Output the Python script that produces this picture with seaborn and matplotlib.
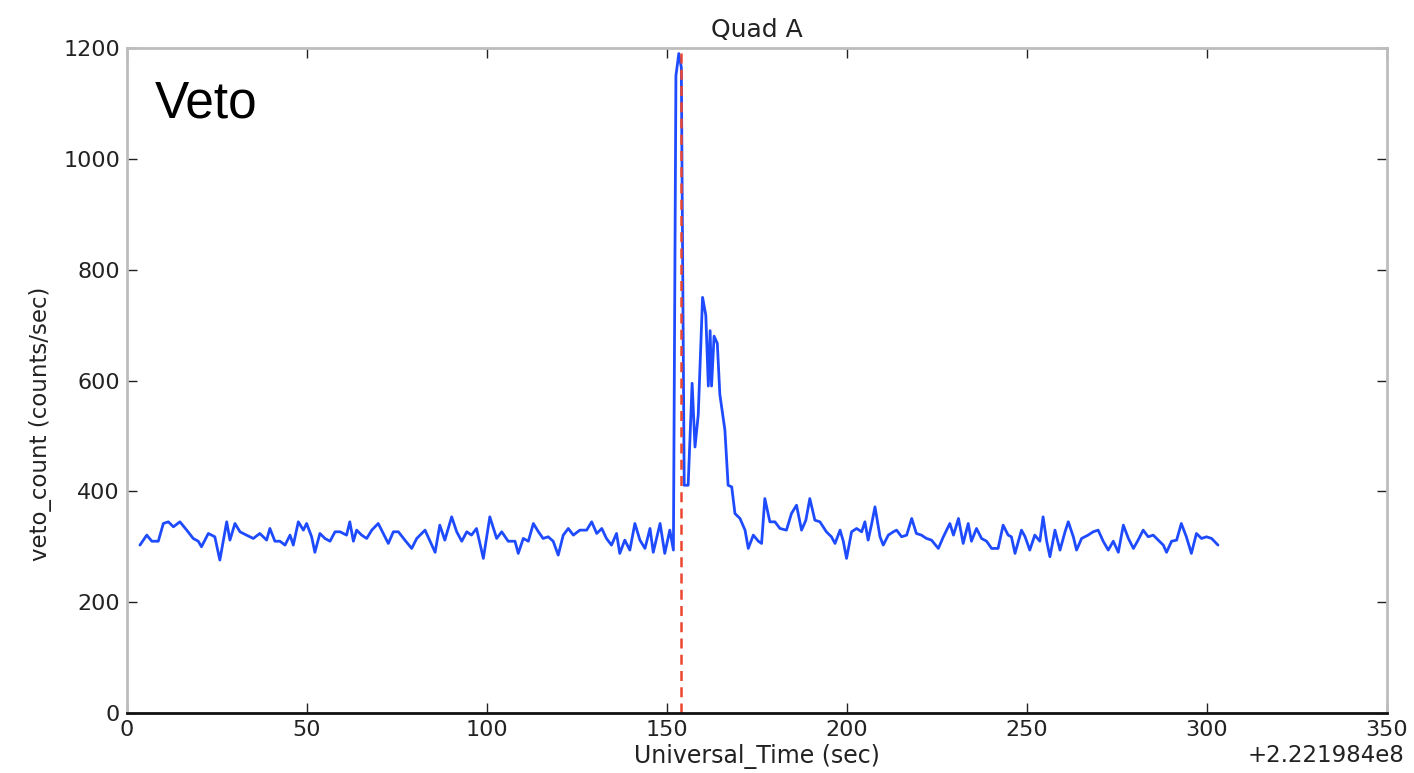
import matplotlib
matplotlib.use("Agg")
import matplotlib.pyplot as plt
import seaborn as sns
import pandas as pd

# Veto counter light curve, Quad A (seconds relative to 2.221984e8)
time_sec = [
    3.6, 5.5, 6.9, 8.7, 10.1, 11.5, 12.9, 14.7, 16.6, 18.4, 19.8, 20.7, 22.6, 24.4,
    25.8, 27.7, 28.6, 30.0, 31.4, 33.2, 35.1, 36.9, 38.8, 39.7, 41.1, 42.5, 43.9,
    45.3, 46.2, 47.6, 49.0, 49.9, 51.3, 52.2, 53.6, 55.0, 56.4, 57.8, 59.2, 61.0,
    61.9, 62.9, 63.8, 65.2, 66.6, 68.0, 69.8, 71.2, 72.6, 74.0, 75.4,
    77.2, 79.1, 80.5, 82.8, 84.2, 85.6, 86.9, 88.3, 90.2, 91.6, 93.0, 94.4, 95.7,
    97.1, 99.0, 100.8, 102.7, 104.1, 105.9, 107.8, 108.7, 110.1, 111.5, 112.9,
    114.3, 115.6, 117.0, 118.4, 119.8, 121.2, 122.6, 124.0, 125.8, 127.7, 129.1,
    130.5, 131.9, 133.2, 134.6, 136.0, 136.9, 138.3, 139.7, 141.1, 142.5, 143.9,
    145.3, 146.2, 148.1, 149.4, 150.8, 151.8,
    152.5, 153.3, 154.0, 154.8, 155.9, 157.0, 157.8, 158.7, 159.9, 160.8, 161.5,
    162.0, 162.4, 163.1, 164.0, 164.7, 166.1, 167.0,
    168.0, 168.9, 170.3, 171.7, 172.6, 174.0, 175.4, 176.3, 177.2, 178.6, 180.0,
    181.4, 183.2, 184.6, 186.0, 187.4, 188.6, 189.7, 191.1, 192.5, 194.3, 195.7,
    196.7, 198.1, 199.0, 199.9, 201.3, 202.7, 204.1, 205.0, 205.9, 206.9, 207.8,
    209.2, 210.1, 211.5, 212.9, 213.8, 215.2, 216.6, 218.0, 219.3, 220.7, 222.1,
    223.5, 225.4, 226.8, 228.6, 229.6, 231.0, 232.3, 233.7, 234.6, 236.0, 237.4,
    238.8, 240.2, 242.0, 243.4, 244.8, 245.7, 246.7, 248.5, 249.5, 250.8, 252.2,
    253.6, 254.5, 255.5, 256.4, 257.8, 259.2, 260.6, 261.5, 262.9, 263.8, 265.2,
    267.0, 268.4, 269.8, 271.2, 272.6, 274.0, 275.4, 276.8, 278.2, 279.6, 280.9,
    282.3, 283.7, 285.1, 286.5, 287.9, 288.8, 290.2, 291.6, 292.9, 294.3, 295.7,
    297.1, 298.5, 299.9, 301.3, 303.1,
]
veto_count = [
    303, 321, 310, 310, 342, 345, 336, 345, 330, 315, 310, 300, 324, 318,
    276, 345, 312, 342, 327, 321, 315, 324, 312, 333, 310, 310, 303,
    321, 303, 345, 330, 342, 318, 290, 324, 315, 310, 327, 327, 321,
    345, 310, 330, 321, 315, 330, 342, 324, 306, 327, 327,
    312, 297, 315, 330, 310, 290, 339, 312, 354, 327, 310, 327, 321,
    333, 279, 354, 315, 327, 310, 310, 288, 315, 310, 342,
    327, 315, 318, 310, 285, 321, 333, 321, 330, 330, 345,
    324, 333, 315, 303, 324, 288, 312, 294, 342, 312, 297,
    333, 290, 342, 288, 330, 294,
    1150, 1190, 1165, 411, 411, 595, 480, 538, 750, 718, 590,
    690, 590, 680, 667, 575, 511, 411,
    408, 360, 351, 330, 297, 321, 310, 306, 387, 345, 345,
    333, 330, 360, 375, 330, 348, 387, 348, 345, 327, 318,
    306, 330, 310, 279, 327, 333, 327, 345, 312, 342, 372,
    318, 303, 321, 327, 330, 318, 321, 351, 324, 321, 315,
    312, 297, 318, 342, 321, 351, 306, 342, 310, 333, 315,
    310, 297, 297, 339, 321, 318, 288, 330, 318, 294, 321,
    310, 354, 310, 282, 330, 294, 327, 345, 318, 294, 315,
    321, 327, 330, 310, 294, 310, 290, 339, 315, 297, 312,
    330, 318, 321, 312, 303, 290, 310, 312, 342, 318, 288,
    324, 315, 318, 315, 303,
]
trigger_time = 153.9
x_ticks = [0, 50, 100, 150, 200, 250, 300, 350]
y_ticks = [0, 200, 400, 600, 800, 1000, 1200]
time_offset_label = "+2.221984e8"

df = pd.DataFrame({"time": time_sec, "veto": veto_count})

sns.set_style("ticks")
plt.rcParams["font.family"] = ["DejaVu Sans"]

fig = plt.figure(figsize=(14.14, 7.73), dpi=100)
ax = fig.add_axes([0.0898, 0.0776, 0.891, 0.8603])

sns.lineplot(data=df, x="time", y="veto", ax=ax, color="#1f4bff",
             linewidth=2.0, estimator=None, sort=False)
ax.axvline(trigger_time, color="#ec4630", linestyle=(0, (4, 2.5)), linewidth=1.8)

ax.set_xlim(0, 350)
ax.set_ylim(0, 1200)
ax.set_xticks(x_ticks)
ax.set_yticks(y_ticks)
ax.tick_params(axis="both", direction="in", length=7, width=1, labelsize=16,
               colors="#222222", top=True, right=True, pad=5)

for side in ("left", "right", "top"):
    ax.spines[side].set_color("#bdbdbd")
    ax.spines[side].set_linewidth(2.0)
    ax.spines[side].set_visible(True)
ax.spines["bottom"].set_color("#111111")
ax.spines["bottom"].set_linewidth(2.0)

ax.set_xlabel("Universal_Time (sec)", fontsize=17, color="#222222", va="top")
ax.xaxis.set_label_coords(0.5, -0.046)
ax.set_ylabel("veto_count (counts/sec)", fontsize=16.5, color="#222222", va="center")
ax.yaxis.set_label_coords(-0.069, 0.435)
ax.set_title("Quad A", fontsize=18, color="#222222", pad=8)

ax.text(1.014, -0.047, time_offset_label, transform=ax.transAxes, ha="right",
        va="top", fontsize=16.5, color="#222222")
ax.text(0.022, 0.895, "Veto", transform=ax.transAxes, ha="left", va="baseline",
        fontsize=37, color="black", family=["Liberation Sans", "DejaVu Sans"])

fig.savefig("out.png", dpi=100)
